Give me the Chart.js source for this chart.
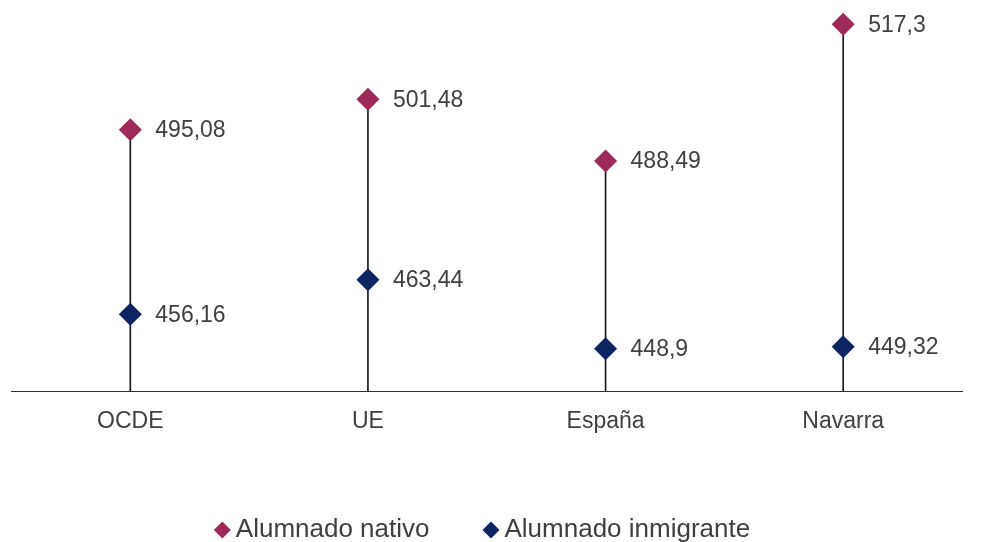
<!DOCTYPE html>
<html>
<head>
<meta charset="utf-8">
<script src="https://cdn.jsdelivr.net/npm/chart.js@4/dist/chart.umd.min.js"></script>
<style>
  html, body { margin: 0; padding: 0; background: #ffffff; }
  #wrap { width: 986px; height: 542px; }
</style>
</head>
<body>
<div id="wrap"><canvas id="c" width="986" height="542"></canvas></div>
<script>
// Puntuaciones medias por origen del alumnado
const categories = ['OCDE', 'UE', 'España', 'Navarra'];
const nativo = [495.08, 501.48, 488.49, 517.3];
const inmigrante = [456.16, 463.44, 448.9, 449.32];
const axisMin = 440;
const axisMax = 520;

const colorNativo = '#9E2A5A';
const colorInmigrante = '#0C2461';
const textColor = '#404040';

// Etiquetas con el valor a la derecha de cada marcador
const valueLabels = {
  id: 'valueLabels',
  afterDatasetsDraw(chart) {
    const ctx = chart.ctx;
    ctx.save();
    ctx.font = '23px "Liberation Sans", Arial, sans-serif';
    ctx.fillStyle = textColor;
    ctx.textAlign = 'left';
    ctx.textBaseline = 'middle';
    chart.data.datasets.forEach((ds, di) => {
      if (!ds.showValues) return;
      const meta = chart.getDatasetMeta(di);
      meta.data.forEach((el, i) => {
        const txt = String(ds.data[i]).replace('.', ',');
        ctx.fillText(txt, el.x + 25, el.y + 1);
      });
    });
    ctx.restore();
  }
};

new Chart(document.getElementById('c'), {
  data: {
    labels: categories,
    datasets: [
      {
        type: 'line',
        label: 'Alumnado nativo',
        data: nativo,
        showLine: false,
        pointStyle: 'rectRot',
        pointRadius: 11.5,
        pointHoverRadius: 11.5,
        backgroundColor: colorNativo,
        borderColor: colorNativo,
        borderWidth: 0,
        showValues: true,
        order: 0
      },
      {
        type: 'line',
        label: 'Alumnado inmigrante',
        data: inmigrante,
        showLine: false,
        pointStyle: 'rectRot',
        pointRadius: 11.5,
        pointHoverRadius: 11.5,
        backgroundColor: colorInmigrante,
        borderColor: colorInmigrante,
        borderWidth: 0,
        showValues: true,
        order: 1
      },
      {
        // Línea vertical desde el eje hasta el valor del alumnado nativo
        type: 'bar',
        label: 'stem',
        data: nativo.map(v => [axisMin, v]),
        backgroundColor: '#1a1a1a',
        borderWidth: 0,
        barThickness: 1,
        order: 5
      }
    ]
  },
  options: {
    responsive: false,
    animation: false,
    events: [],
    layout: { padding: { left: 10, right: 24, top: 8.5, bottom: 0 } },
    scales: {
      x: {
        offset: true,
        grid: { display: false, drawTicks: false },
        border: { display: true, color: '#333333', width: 1 },
        ticks: {
          color: textColor,
          padding: 17,
          font: { family: '"Liberation Sans", Arial, sans-serif', size: 23 }
        },
        afterFit(scale) { scale.height = 65; }
      },
      y: {
        display: false,
        min: axisMin,
        max: axisMax
      }
    },
    plugins: {
      tooltip: { enabled: false },
      legend: {
        position: 'bottom',
        maxHeight: 86,
        labels: {
          usePointStyle: true,
          boxWidth: 1,
          boxHeight: 12,
          padding: 61,
          color: textColor,
          font: { family: '"Liberation Sans", Arial, sans-serif', size: 26 },
          filter: item => item.text !== 'stem'
        }
      }
    }
  },
  plugins: [valueLabels]
});
</script>
</body>
</html>
